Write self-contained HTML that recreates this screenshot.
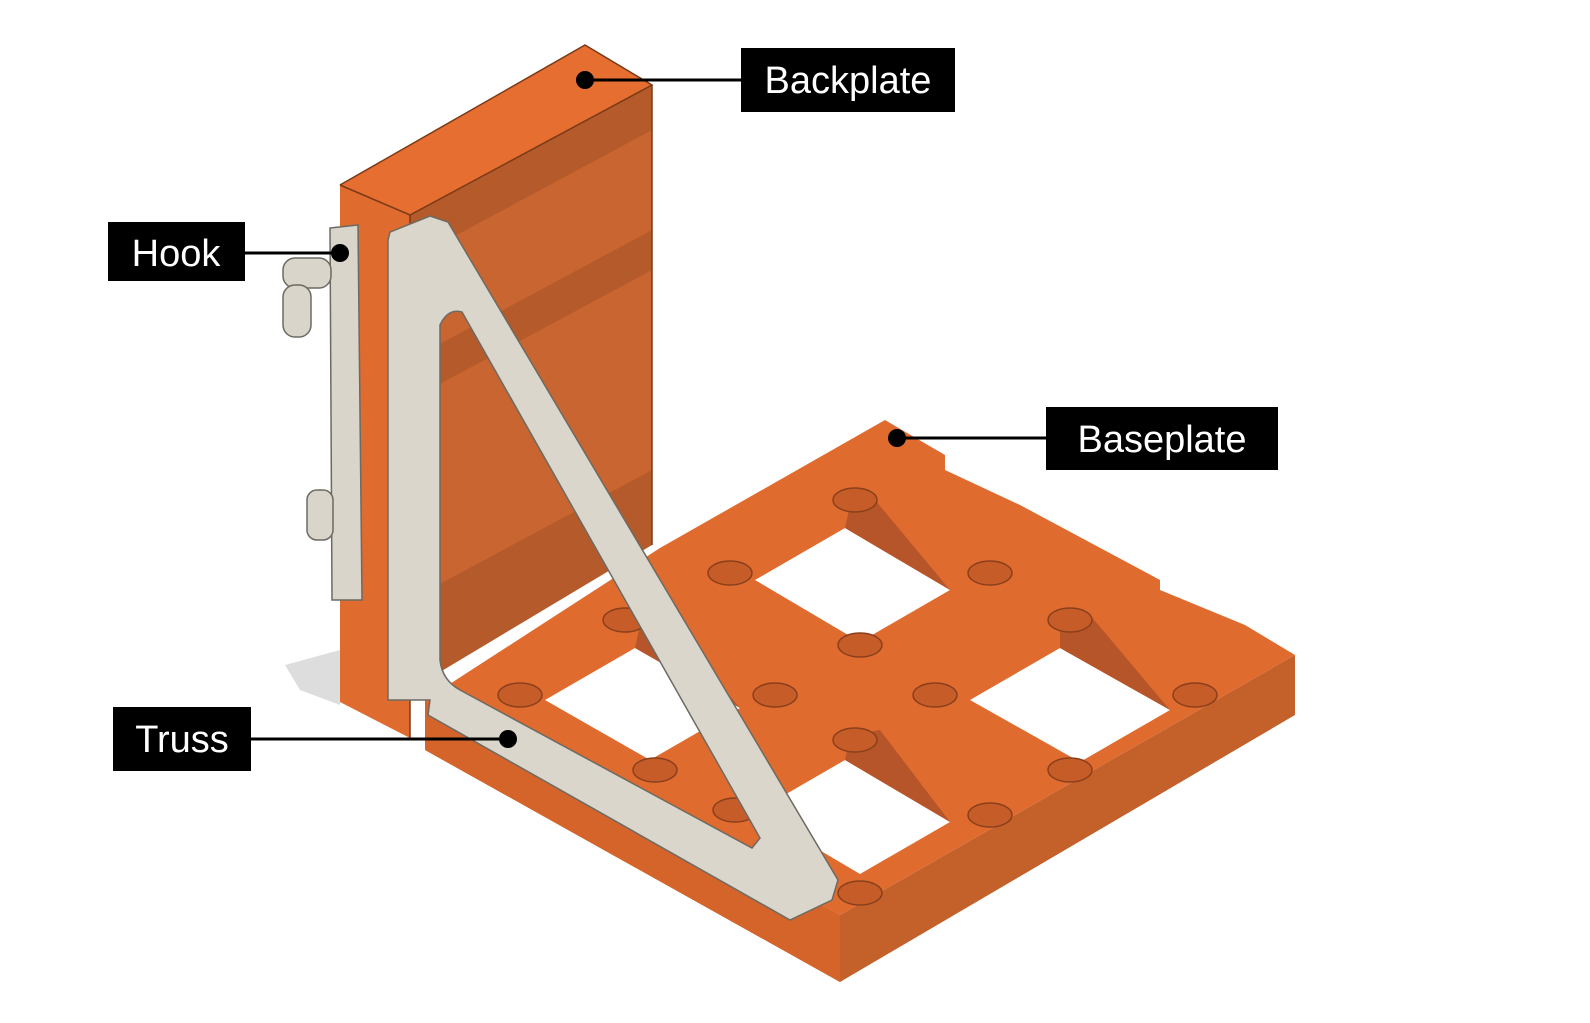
<!DOCTYPE html>
<html><head><meta charset="utf-8"><style>
html,body{margin:0;padding:0;background:#fff;}
svg{display:block}
text{font-family:"Liberation Sans",sans-serif;fill:#fff;}
</style></head><body>
<svg width="1590" height="1023" viewBox="0 0 1590 1023" xmlns="http://www.w3.org/2000/svg">
<polygon points="285,665 340,650 340,705 300,690" fill="#ddd"/>
<!-- Baseplate front faces -->
<polygon points="425,700 425,750 840,982 1295,715 1295,655 840,915" fill="#c4602a"/>
<polygon points="425,700 840,915 840,982 425,750" fill="#d4642a"/>
<!-- Baseplate top -->
<polygon points="425,700 660,548 885,420 945,455 945,470 1020,505 1160,580 1160,590 1245,625 1295,655 840,915" fill="#e06b2e"/>
<!-- cells (white holes) -->
<polygon points="755,580 845,528 950,590 860,642" fill="#fff"/>
<polygon points="970,700 1060,648 1170,710 1080,762" fill="#fff"/>
<polygon points="755,812 845,760 950,822 860,874" fill="#fff"/>
<polygon points="545,700 635,648 740,708 650,760" fill="#fff"/>
<g fill="#b7552a">
<polygon points="845,528 850,505 875,500 950,590"/>
<polygon points="1060,648 1060,625 1090,615 1170,710"/>
<polygon points="845,760 850,735 880,730 950,822"/>
<polygon points="635,648 640,625 665,620 740,708"/>
</g>
<g fill="#c65d28" stroke="#8a3f1c" stroke-width="1.5">
<ellipse cx="855" cy="500" rx="22" ry="12"/><ellipse cx="730" cy="573" rx="22" ry="12"/>
<ellipse cx="990" cy="573" rx="22" ry="12"/><ellipse cx="860" cy="645" rx="22" ry="12"/>
<ellipse cx="1070" cy="620" rx="22" ry="12"/><ellipse cx="775" cy="695" rx="22" ry="12"/>
<ellipse cx="935" cy="695" rx="22" ry="12"/><ellipse cx="1195" cy="695" rx="22" ry="12"/>
<ellipse cx="855" cy="740" rx="22" ry="12"/><ellipse cx="1070" cy="770" rx="22" ry="12"/>
<ellipse cx="990" cy="815" rx="22" ry="12"/><ellipse cx="860" cy="893" rx="22" ry="12"/>
<ellipse cx="655" cy="770" rx="22" ry="12"/><ellipse cx="520" cy="695" rx="22" ry="12"/>
<ellipse cx="625" cy="620" rx="22" ry="12"/><ellipse cx="735" cy="810" rx="22" ry="12"/>
</g>
<!-- Backplate -->
<polygon points="410,215 652,85 652,545 410,690" fill="#b55a2b"/>
<g fill="#c96530">
<polygon points="410,260 652,130 652,230 410,360"/>
<polygon points="410,400 652,270 652,470 410,600"/>
</g>
<polygon points="340,185 585,45 652,85 410,215" fill="#e56e30"/>
<polygon points="340,185 410,215 410,738 340,702" fill="#e06b2e"/>
<g stroke="#7a3a18" stroke-width="1.5" fill="none">
<polyline points="340,185 585,45 652,85 410,215 340,185"/>
<line x1="410" y1="215" x2="410" y2="738"/>
<line x1="652" y1="85" x2="652" y2="545"/>
</g>
<!-- Hook -->
<g fill="#d9d5cb" stroke="#6d6a62" stroke-width="1.5">
<polygon points="330,228 358,225 362,600 332,600"/>
<rect x="283" y="258" width="48" height="30" rx="12"/>
<rect x="283" y="285" width="28" height="52" rx="12"/>
<rect x="307" y="490" width="26" height="50" rx="10"/>
</g>
<!-- Truss -->
<path fill-rule="evenodd" fill="#dad6cc" stroke="#6d6a62" stroke-width="1.5"
 d="M388,240 L388,700 L430,700 L428,715 L790,920 L832,900 L838,880 L448,222 L430,216 L390,232 Z
    M440,325 L440,660 Q442,680 460,690 L752,848 L760,838 L462,312 Q448,308 440,325 Z"/>
<!-- Labels -->
<g stroke="#000" stroke-width="3">
<line x1="585" y1="80" x2="741" y2="80"/>
<line x1="245" y1="253" x2="340" y2="253"/>
<line x1="897" y1="438" x2="1046" y2="438"/>
<line x1="251" y1="739" x2="508" y2="739"/>
</g>
<g fill="#000">
<circle cx="585" cy="80" r="9"/><circle cx="340" cy="253" r="9"/>
<circle cx="897" cy="438" r="9"/><circle cx="508" cy="739" r="9"/>
<rect x="741" y="48" width="214" height="64"/>
<rect x="108" y="222" width="137" height="59"/>
<rect x="1046" y="407" width="232" height="63"/>
<rect x="113" y="707" width="138" height="64"/>
</g>
<text x="848" y="93" font-size="38" text-anchor="middle">Backplate</text>
<text x="176" y="266" font-size="38" text-anchor="middle">Hook</text>
<text x="1162" y="452" font-size="38" text-anchor="middle">Baseplate</text>
<text x="182" y="752" font-size="38" text-anchor="middle">Truss</text>
</svg>
</body></html>
